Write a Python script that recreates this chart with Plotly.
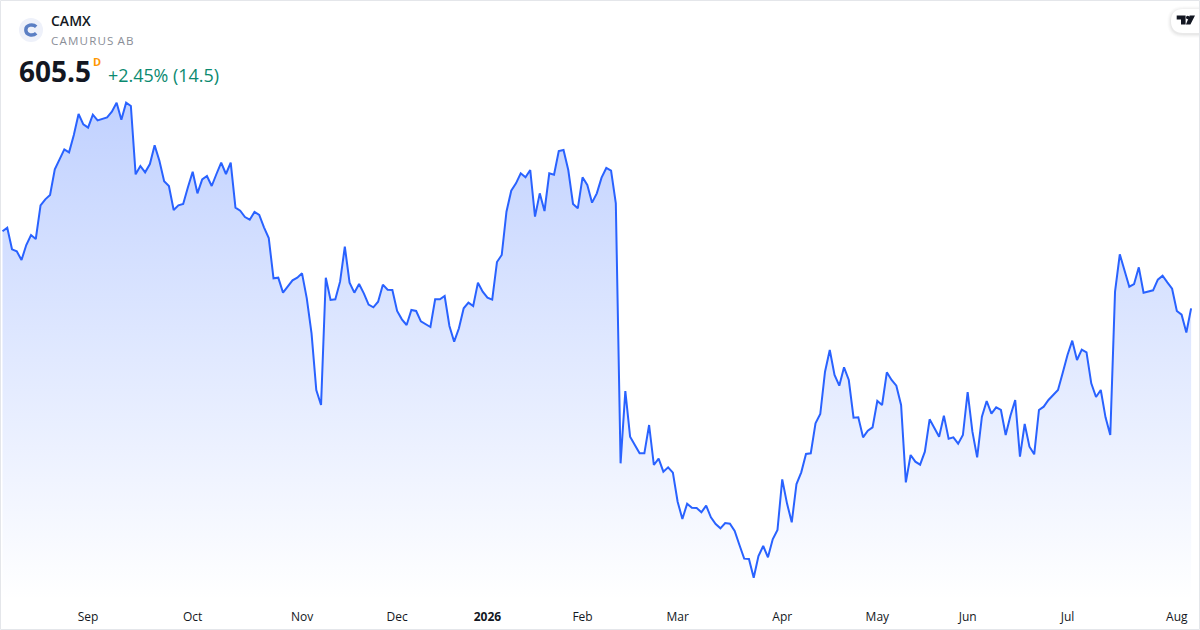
import plotly.graph_objects as go

PRICES = [
651.7,653.9,640.9,639.7,634.5,643.5,649.5,647.1,667.3,670.9,673.5,688.9,694.9,700.9,699.1,709.5,722.1,715.9,713.9,721.7,
718.3,719.1,720.1,723.5,728.9,718.7,728.9,726.9,685.9,690.9,687.1,692.1,703.3,694.1,681.7,678.9,664.5,667.3,668.1,678.1,
687.5,674.5,682.9,684.9,678.9,686.1,692.9,686.1,692.9,665.9,664.1,660.3,658.7,663.3,661.5,654.1,647.7,623.5,623.9,614.9,
618.5,622.3,623.9,626.5,611.5,590.5,556.5,547.5,623.9,610.5,610.9,621.5,642.5,620.9,614.9,620.1,614.5,607.7,606.1,609.5,
619.7,616.7,616.5,603.9,598.9,595.5,604.5,603.9,597.7,595.9,594.3,610.9,610.9,612.9,594.9,585.5,593.5,605.5,608.9,606.9,
620.9,615.5,611.9,610.7,633.3,637.5,663.5,676.1,680.5,686.5,684.1,688.5,660.5,674.5,663.9,686.5,685.7,699.9,700.5,688.5,
668.1,665.5,684.1,679.5,668.9,674.5,683.9,689.7,688.1,668.5,512.5,555.9,528.5,523.5,518.5,518.5,535.5,511.5,515.3,507.5,
510.1,506.9,489.5,479.1,488.3,485.9,485.7,483.1,487.1,480.1,476.1,473.5,476.7,476.3,471.9,463.5,455.3,455.1,443.9,456.9,
462.9,456.1,466.9,472.5,502.9,488.5,477.1,500.1,507.1,518.1,518.5,536.5,542.1,567.5,580.5,565.5,559.1,570.1,562.5,539.9,
540.1,528.1,532.1,534.1,549.9,547.5,567.1,562.5,559.1,547.5,501.1,517.5,513.5,511.7,519.5,538.9,533.9,528.5,541.1,527.3,
528.1,524.3,529.5,555.3,531.5,516.1,540.5,549.9,542.3,546.1,544.5,529.5,541.1,550.5,516.5,536.1,522.5,517.9,544.5,546.5,
550.5,553.5,556.5,566.9,577.5,586.1,574.5,580.7,579.1,560.5,552.3,556.5,540.1,529.5,615.5,637.9,628.5,618.5,620.1,630.1,
614.9,615.7,616.3,622.7,625.1,621.1,617.3,603.9,601.7,591.0,605.5,
]
SESSIONS = list(range(len(PRICES)))
TICK_SESSIONS = [18, 40, 63, 83, 102, 122, 142, 164, 184, 203, 224, 247]
TICK_LABELS = ["Sep", "Oct", "Nov", "Dec", "<b>2026</b>", "Feb", "Mar", "Apr", "May", "Jun", "Jul", "Aug"]

W, H = 1200, 630
FONT = "Open Sans"
BLUE = "#2962FF"
def X(p): return p / W
def Y(p): return 1 - p / H
def P(*cmds):
    """Build an SVG path from commands given in window pixels."""
    out = []
    for c in cmds:
        if isinstance(c, str):
            out.append(c)
        else:
            out.append(f"{X(c[0])} {Y(c[1])}")
    return " ".join(out)

fig = go.Figure()
fig.add_trace(go.Scatter(
    x=SESSIONS, y=PRICES, mode="lines",
    line=dict(color=BLUE, width=2, shape="linear"),
    fill="tozeroy",
    fillgradient=dict(type="vertical", start=430.5, stop=729,
                      colorscale=[[0, "rgba(41,98,255,0)"], [1, "rgba(41,98,255,0.29)"]]),
    hoverinfo="skip", showlegend=False,
))

def text(s, x, y, size, color, anchor="left", weight=400, yanchor="middle"):
    fig.add_annotation(xref="paper", yref="paper", x=X(x), y=Y(y), text=s, showarrow=False,
                       xanchor=anchor, yanchor=yanchor,
                       font=dict(family=FONT, size=size, color=color, weight=weight),
                       borderpad=0, borderwidth=0)

text("CAMX", 51, 21, 14, "#131722", weight=600)
text("C&#8202;A&#8202;M&#8202;U&#8202;R&#8202;U&#8202;S&#8202; A&#8202;B", 51, 40.5, 11.6, "#8a8e97")
text("605.5", 19, 71, 28, "#131722", weight=700)
text("D", 93, 62, 11, "#ff9800", weight=700)
text("+2.45% (14.5)", 108, 75, 17.9, "#0b8a70")

def pill(left, top, bottom, **kw):
    r = (bottom - top) / 2
    return dict(type="path", xref="paper", yref="paper", layer="above", line=dict(width=0),
                path=P("M", (left + r, top), "L", (1201, top), "L", (1201, bottom), "L", (left + r, bottom),
                       "Q", (left, bottom), (left, top + r), "Q", (left, top), (left + r, top), "Z"), **kw)

shapes = [
    dict(type="circle", xref="paper", yref="paper", x0=X(19), x1=X(43), y0=Y(42), y1=Y(18),
         fillcolor="#eef1fa", line=dict(width=0), layer="above"),
    dict(type="path", xref="paper", yref="paper", layer="above", fillcolor="rgba(0,0,0,0)",
         line=dict(color="#5b7fc4", width=3.4),
         path=P("M", (36.2, 26.8), "C", (33, 23.6), (25.8, 24.6), (25.8, 30), "C", (25.8, 35.4), (33, 36.4), (36.2, 33.2))),
]
for g, a in [(4, 0.012), (3, 0.018), (2, 0.025), (1, 0.03)]:
    shapes.append(pill(1171 - g, 9 - g + 1, 33 + g + 1, fillcolor=f"rgba(0,0,0,{a})"))
shapes.append(pill(1171, 9, 33, fillcolor="#ffffff"))
shapes.append(dict(type="path", xref="paper", yref="paper", layer="above", fillcolor="#131722", line=dict(width=0),
    path=P("M", (1176.7, 15.6), "L", (1185.6, 15.6), "L", (1185.6, 24.4), "L", (1181, 24.4), "L", (1181, 19.4), "L", (1176.7, 19.4), "Z",
           "M", (1189.7, 15.6), "L", (1195, 15.6), "L", (1190.4, 24.4), "L", (1185.9, 24.4), "Z")))
shapes.append(dict(type="circle", xref="paper", yref="paper", layer="above", fillcolor="#131722", line=dict(width=0),
                   x0=X(1186), x1=X(1189.4), y0=Y(19.2), y1=Y(15.8)))
shapes.append(dict(type="rect", xref="paper", yref="paper", x0=X(0.5), x1=X(1199.5), y0=Y(629.5), y1=Y(0.5),
                   line=dict(color="#e4e6ea", width=1), fillcolor="rgba(0,0,0,0)", layer="above"))

fig.update_layout(
    width=W, height=H, autosize=False,
    margin=dict(l=0, r=0, t=0, b=0),
    paper_bgcolor="#ffffff", plot_bgcolor="#ffffff",
    shapes=shapes,
    showlegend=False,
    xaxis=dict(domain=[0, 1], range=[-0.526, 251.87], tickmode="array", tickvals=TICK_SESSIONS, ticktext=TICK_LABELS,
               showgrid=False, zeroline=False, showline=False, ticks="", ticklabelstandoff=8,
               tickfont=dict(family=FONT, size=12, color="#131722")),
    yaxis=dict(domain=[30 / H, 1], range=[430.5, 790.5], visible=False, showgrid=False, zeroline=False),
)
fig.write_html("out.html", config=dict(displayModeBar=False),
               post_script="document.body.style.margin='0';document.documentElement.style.overflow='hidden';")
